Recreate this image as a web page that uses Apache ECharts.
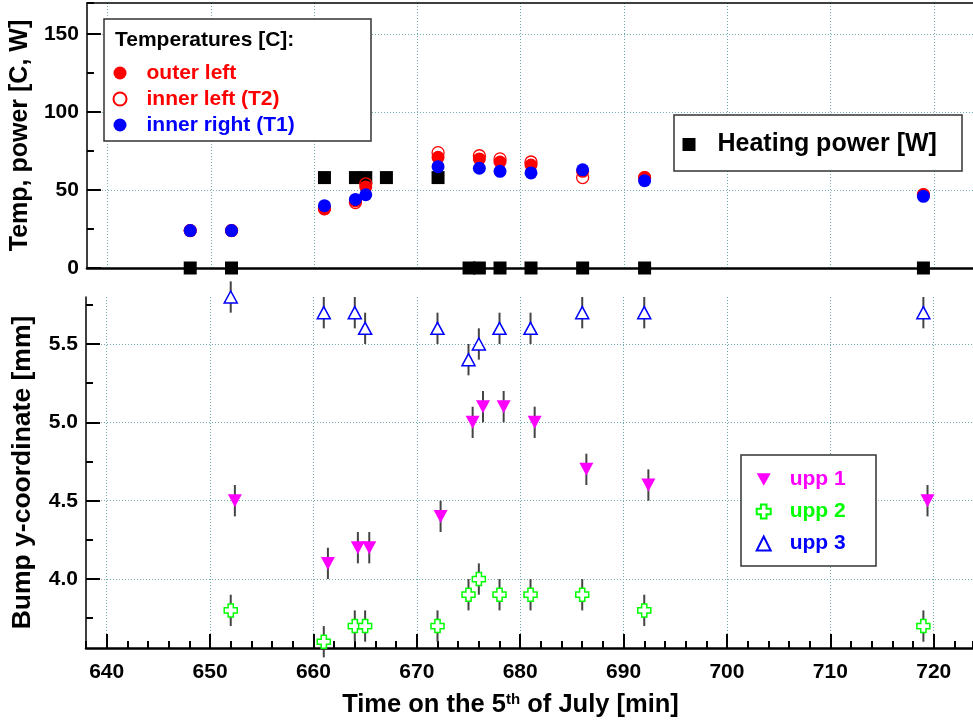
<!DOCTYPE html>
<html>
<head>
<meta charset="utf-8">
<script src="https://cdn.jsdelivr.net/npm/echarts@6/dist/echarts.min.js"></script>
<style>
  html, body { margin: 0; padding: 0; background: #fff; }
  #chart { width: 973px; height: 724px; }
</style>
</head>
<body>
<div id="chart"></div>
<script>
// top panel: temperatures [C] and heating power [W]
const tempTime = [648, 652, 661, 664, 665, 672, 676, 678, 681, 686, 692, 719]
const outerLeft = [24, 24, 38, 43, 52, 71, 70, 68, 66, 62, 58, 47]
const innerLeft = [24, 24, 38, 42, 54, 74, 72, 70, 68, 58, 58, 47]
const innerRight = [24, 24, 40, 44, 47, 65, 64, 62, 61, 63, 56, 46]
const powerTime = [648, 652, 661, 664, 665, 667, 672, 675, 676, 678, 681, 686, 692, 719]
const powerValue = [0, 0, 58, 58, 58, 58, 58, 0, 0, 0, 0, 0, 0, 0]

// bottom panel: bump y-coordinate [mm]
const bumpTime = [652, 661, 664, 665, 672, 675, 676, 678, 681, 686, 692, 719]
const upp1Time = [652.4, 661.4, 664.3, 665.4, 672.3, 675.4, 676.4, 678.4, 681.4, 686.4, 692.4, 719.4]
const upp1 = [4.5, 4.1, 4.2, 4.2, 4.4, 5.0, 5.1, 5.1, 5.0, 4.7, 4.6, 4.5]
const upp2 = [3.8, 3.6, 3.7, 3.7, 3.7, 3.9, 4.0, 3.9, 3.9, 3.9, 3.8, 3.7]
const upp3 = [5.8, 5.7, 5.7, 5.6, 5.6, 5.4, 5.5, 5.6, 5.6, 5.7, 5.7, 5.7]
const upp1Err = [0.1, 0.1, 0.1, 0.1, 0.1, 0.1, 0.1, 0.1, 0.1, 0.1, 0.1, 0.1]
const upp2Err = [0.1, 0.1, 0.1, 0.1, 0.1, 0.1, 0.1, 0.1, 0.1, 0.1, 0.1, 0.1]
const upp3Err = [0.1, 0.1, 0.1, 0.1, 0.1, 0.1, 0.1, 0.1, 0.1, 0.1, 0.1, 0.1]
const bumpMajor = [4.0, 4.5, 5.0, 5.5]
const bumpMinor = [3.75, 4.25, 4.75, 5.25, 5.75]

const timeMin = 638
const timeMax = 723.8

const FONT = "'Liberation Sans', Arial, sans-serif"
const dots = { color: '#6fa9ae', width: 1, type: [1, 2] }
const gridLine = { show: true, showMinLine: false, showMaxLine: false, lineStyle: dots }
const crossPath = 'path://M3,0 H7 V3 H10 V7 H7 V10 H3 V7 H0 V3 H3 Z'
const downTriangle = 'path://M0,0 L10,0 L5,9 Z'

const pairs = (xs, ys) => xs.map((x, i) => [x, ys[i]])
const triples = (xs, ys, es) => xs.map((x, i) => [x, ys[i], es[i]])

function errorBar(params, api) {
  const x = api.value(0)
  const y = api.value(1)
  const e = api.value(2)
  const lo = api.coord([x, y - e])
  const hi = api.coord([x, y + e])
  return {
    type: 'line',
    shape: { x1: lo[0], y1: lo[1], x2: hi[0], y2: hi[1] },
    style: { stroke: '#444', lineWidth: 2 }
  }
}

const chart = echarts.init(document.getElementById('chart'), null, { renderer: 'canvas' })

chart.setOption({
  animation: false,
  backgroundColor: '#fff',
  textStyle: { fontFamily: FONT },
  grid: [
    { left: 86, right: 0, top: 3, height: 265 },
    { left: 86, right: 0, top: 297, height: 351 }
  ],
  xAxis: [
    { // top panel, zero line
      type: 'value', gridIndex: 0, position: 'bottom', min: timeMin, max: timeMax,
      minInterval: 10, maxInterval: 10,
      axisLine: { onZero: false, lineStyle: { color: '#000', width: 2.5 } },
      axisTick: { show: false }, axisLabel: { show: false },
      splitLine: gridLine
    },
    { // top panel frame
      type: 'value', gridIndex: 0, position: 'top', min: timeMin, max: timeMax,
      axisLine: { onZero: false, lineStyle: { color: '#000', width: 1.5 } },
      axisTick: { show: false }, axisLabel: { show: false }, splitLine: { show: false }
    },
    { // bottom panel, major ticks + labels
      type: 'value', gridIndex: 1, position: 'bottom', min: timeMin, max: timeMax,
      minInterval: 10, maxInterval: 10,
      axisLine: { onZero: false, lineStyle: { color: '#000', width: 2.5 } },
      axisTick: { inside: true, length: 14, lineStyle: { color: '#000', width: 2 } },
      axisLabel: { margin: 14, fontSize: 21, fontWeight: 'bold', color: '#000', showMinLabel: false, showMaxLabel: false,
        formatter: v => (v % 10 === 0 ? String(v) : '') },
      splitLine: gridLine,
      name: '{b|Time on the 5}{s|th}{b| of July [min]}',
      nameLocation: 'middle', nameGap: 44,
      nameTextStyle: {
        padding: [0, 38, 0, 0],
        rich: {
          b: { fontSize: 25.5, fontWeight: 'bold', color: '#000', fontFamily: FONT },
          s: { fontSize: 15, fontWeight: 'bold', color: '#000', fontFamily: FONT, verticalAlign: 'top' }
        }
      }
    },
    { // bottom panel, minor ticks
      type: 'value', gridIndex: 1, position: 'bottom', min: timeMin, max: timeMax, interval: 2,
      axisLine: { show: false, onZero: false },
      axisTick: { inside: true, length: 7, lineStyle: { color: '#000', width: 2 } },
      axisLabel: { show: false }, splitLine: { show: false }
    }
  ],
  yAxis: [
    {
      type: 'value', gridIndex: 0, position: 'left', min: 0, max: 170, interval: 50,
      axisLine: { show: true, onZero: false, lineStyle: { color: '#000', width: 1.5 } },
      axisTick: { inside: true, length: 14, lineStyle: { color: '#000', width: 2 } },
      axisLabel: { margin: 8, fontSize: 21, fontWeight: 'bold', color: '#000', showMaxLabel: false },
      splitLine: gridLine,
      name: 'Temp, power [C, W]', nameLocation: 'middle', nameGap: 47,
      nameTextStyle: { fontSize: 25, fontWeight: 'bold', color: '#000' }
    },
    {
      type: 'value', gridIndex: 0, position: 'left', min: 0, max: 170, interval: 25,
      axisLine: { show: false, onZero: false },
      axisTick: { inside: true, length: 7, lineStyle: { color: '#000', width: 2 } },
      axisLabel: { show: false }, splitLine: { show: false }
    },
    {
      type: 'value', gridIndex: 1, position: 'left', min: 3.56, max: 5.8,
      minInterval: 0.5, maxInterval: 0.5,
      axisLine: { show: true, onZero: false, lineStyle: { color: '#000', width: 1.5 } },
      axisTick: { inside: true, length: 14, customValues: bumpMajor, lineStyle: { color: '#000', width: 2 } },
      axisLabel: { margin: 8, fontSize: 21, fontWeight: 'bold', color: '#000', showMinLabel: true, showMaxLabel: true,
        customValues: bumpMajor, formatter: v => v.toFixed(1) },
      splitLine: { show: true, showMinLine: true, showMaxLine: true, lineStyle: dots },
      name: 'Bump y-coordinate [mm]', nameLocation: 'middle', nameGap: 50,
      nameTextStyle: { fontSize: 26.5, fontWeight: 'bold', color: '#000' }
    },
    {
      type: 'value', gridIndex: 1, position: 'left', min: 3.56, max: 5.8,
      minInterval: 0.25, maxInterval: 0.25,
      axisLine: { show: false, onZero: false },
      axisTick: { inside: true, length: 7, customValues: bumpMinor, lineStyle: { color: '#000', width: 2 } },
      axisLabel: { show: false }, splitLine: { show: false }
    }
  ],
  legend: [
    {
      left: 107.5, top: 57.5, orient: 'vertical', itemWidth: 13, itemHeight: 13, itemGap: 5, z: 10,
      selectedMode: false,
      textStyle: { fontSize: 21, fontWeight: 'bold', padding: [0, 0, 0, 15] },
      data: [
        { name: 'outer left', textStyle: { color: '#ff0000' } },
        { name: 'inner left (T2)', textStyle: { color: '#ff0000' } },
        { name: 'inner right (T1)', textStyle: { color: '#0000ff' } }
      ]
    },
    {
      left: 677.5, top: 127, orient: 'vertical', itemWidth: 13, itemHeight: 13, z: 10,
      selectedMode: false,
      textStyle: { fontSize: 25, fontWeight: 'bold', color: '#000', padding: [0, 0, 0, 17] },
      data: ['Heating power [W]']
    },
    {
      left: 750.7, top: 464, orient: 'vertical', itemWidth: 14, itemHeight: 14, itemGap: 11, z: 10,
      selectedMode: false,
      textStyle: { fontSize: 21, fontWeight: 'bold', padding: [0, 0, 0, 14] },
      data: [
        { name: 'upp 1', textStyle: { color: '#ff00ff' } },
        { name: 'upp 2', textStyle: { color: '#00ff00' } },
        { name: 'upp 3', textStyle: { color: '#0000ff' } }
      ]
    }
  ],
  graphic: [
    { type: 'rect', z: 5, shape: { x: 104, y: 19, width: 267, height: 122 }, style: { fill: '#fff', stroke: '#333', lineWidth: 1.5 } },
    { type: 'text', z: 6, style: { x: 115, y: 40, text: 'Temperatures [C]:', font: 'bold 21px ' + FONT, fill: '#000', verticalAlign: 'middle' } },
    { type: 'rect', z: 5, shape: { x: 674, y: 115, width: 288, height: 56 }, style: { fill: '#fff', stroke: '#333', lineWidth: 1.5 } },
    { type: 'rect', z: 5, shape: { x: 741, y: 455, width: 135, height: 111 }, style: { fill: '#fff', stroke: '#333', lineWidth: 1.5 } }
  ],
  series: [
    {
      name: 'Heating power [W]', type: 'scatter', xAxisIndex: 0, yAxisIndex: 0, clip: false,
      symbol: 'rect', symbolSize: 13, itemStyle: { color: '#000', opacity: 1 },
      data: pairs(powerTime, powerValue)
    },
    {
      name: 'outer left', type: 'scatter', xAxisIndex: 0, yAxisIndex: 0, clip: false,
      symbol: 'circle', symbolSize: 13, itemStyle: { color: '#ff0000', opacity: 1 },
      data: pairs(tempTime, outerLeft)
    },
    {
      name: 'inner left (T2)', type: 'scatter', xAxisIndex: 0, yAxisIndex: 0, clip: false,
      symbol: 'circle', symbolSize: 12,
      itemStyle: { color: 'rgba(255,255,255,0)', borderColor: '#ff0000', borderWidth: 1.3, opacity: 1 },
      data: pairs(tempTime, innerLeft)
    },
    {
      name: 'inner right (T1)', type: 'scatter', xAxisIndex: 0, yAxisIndex: 0, clip: false,
      symbol: 'circle', symbolSize: 13, itemStyle: { color: '#0000ff', opacity: 1 },
      data: pairs(tempTime, innerRight)
    },
    {
      type: 'custom', xAxisIndex: 2, yAxisIndex: 2, renderItem: errorBar, encode: { x: 0, y: 1 },
      data: triples(upp1Time, upp1, upp1Err)
    },
    {
      type: 'custom', xAxisIndex: 2, yAxisIndex: 2, renderItem: errorBar, encode: { x: 0, y: 1 },
      data: triples(bumpTime, upp2, upp2Err)
    },
    {
      type: 'custom', xAxisIndex: 2, yAxisIndex: 2, renderItem: errorBar, encode: { x: 0, y: 1 },
      data: triples(bumpTime, upp3, upp3Err)
    },
    {
      name: 'upp 1', type: 'scatter', xAxisIndex: 2, yAxisIndex: 2, clip: false,
      symbol: downTriangle, symbolSize: [14, 13], itemStyle: { color: '#ff00ff', opacity: 1 },
      data: pairs(upp1Time, upp1)
    },
    {
      name: 'upp 2', type: 'scatter', xAxisIndex: 2, yAxisIndex: 2, clip: false,
      symbol: crossPath, symbolSize: 13,
      itemStyle: { color: '#fff', borderColor: '#00ff00', borderWidth: 1.5, opacity: 1 },
      data: pairs(bumpTime, upp2)
    },
    {
      name: 'upp 3', type: 'scatter', xAxisIndex: 2, yAxisIndex: 2, clip: false,
      symbol: 'triangle', symbolSize: [13, 12],
      itemStyle: { color: '#fff', borderColor: '#0000ff', borderWidth: 1.5, opacity: 1 },
      data: pairs(bumpTime, upp3)
    }
  ]
})
</script>
</body>
</html>
